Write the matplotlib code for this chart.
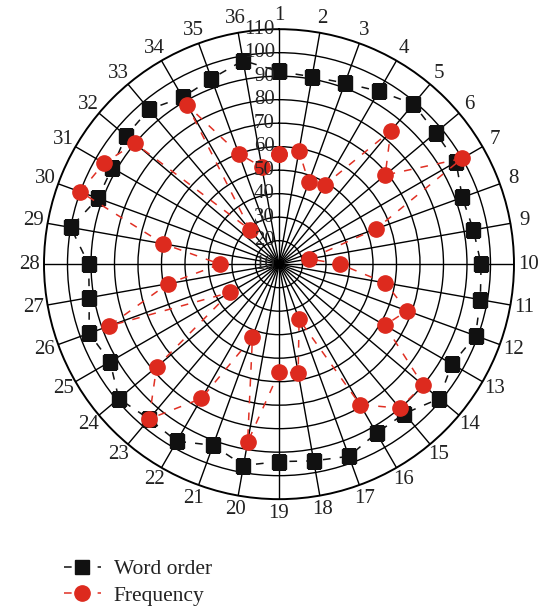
import numpy as np
import matplotlib
matplotlib.use("Agg")
import matplotlib.pyplot as plt
from matplotlib import transforms

plt.rcParams['font.family'] = ['Liberation Serif', 'DejaVu Serif']

# 36 positions around the circle, value per position
categories = [str(i) for i in range(1, 37)]
word_order = [92, 91, 92, 95, 99, 97, 97, 93, 94, 96, 97, 99,
              95, 99, 93, 93, 97, 95, 94, 97, 92, 97, 96, 99,
              93, 96, 92, 91, 100, 92, 92, 95, 96, 92, 94, 98]
frequency = [57, 59, 47, 49, 84, 69, 100, 54, 23, 36, 56, 68,
             62, 90, 90, 79, 35, 57, 56, 87, 43, 76, 96, 78,
             34, 87, 58, 35, 60, 100, 96, 90, 29, 88, 60, 52]
r_ticks = [10, 20, 30, 40, 50, 60, 70, 80, 90, 100, 110]

theta = np.deg2rad(np.arange(len(categories)) * 360 / len(categories))
# close the loop back to position 1
theta_c = np.append(theta, theta[0])
wo_c = np.append(word_order, word_order[0])
fr_c = np.append(frequency, frequency[0])

fig = plt.figure(figsize=(5.43, 6.08), dpi=100)
ax = fig.add_axes([0.081, 0.179, 0.8656, 0.773], projection='polar')
ax.set_theta_zero_location('N')
ax.set_theta_direction(-1)
ax.set_rlim(r_ticks[0], r_ticks[-1])

ax.set_xticks(theta)
ax.set_xticklabels([])
ax.set_yticks(r_ticks[1:-1])
ax.set_yticklabels([])
ax.grid(True, color='black', linewidth=1.0)
ax.spines['polar'].set_linewidth(1.4)
ax.spines['polar'].set_color('black')
ax.tick_params(length=0)

ax.plot(theta_c, wo_c, color='#111111', lw=1.1, dashes=(5, 6),
        marker='s', markersize=10, markerfacecolor='#111111',
        markeredgecolor='#111111', label='Word order', zorder=3)
ax.plot(theta_c, fr_c, color='#e03024', lw=1.1, dashes=(5, 6),
        marker='o', markersize=11, markerfacecolor='#dd2a1e',
        markeredgecolor='#dd2a1e', label='Frequency', zorder=4)

# radial labels along the top spoke
off = transforms.offset_copy(ax.transData, fig=fig, x=-4, y=0, units='dots')
for v in r_ticks:
    ax.text(0, v, str(v), transform=off, ha='right', va='center',
            fontsize=15, color='#222222', zorder=5)

# category labels outside the rim
for t, lab in zip(theta, categories):
    ax.text(t, 116, lab, ha='center', va='center', fontsize=15,
            color='#222222', clip_on=False)

leg = fig.legend(loc='upper left', bbox_to_anchor=(64 / 543, 1 - 559 / 608),
                 frameon=False, fontsize=15.5, handlelength=1.7,
                 handletextpad=0.6, labelspacing=0.3, borderpad=0,
                 borderaxespad=0, numpoints=1)
for t in leg.get_texts():
    t.set_color('#222222')

fig.savefig('out.png', dpi=100)
